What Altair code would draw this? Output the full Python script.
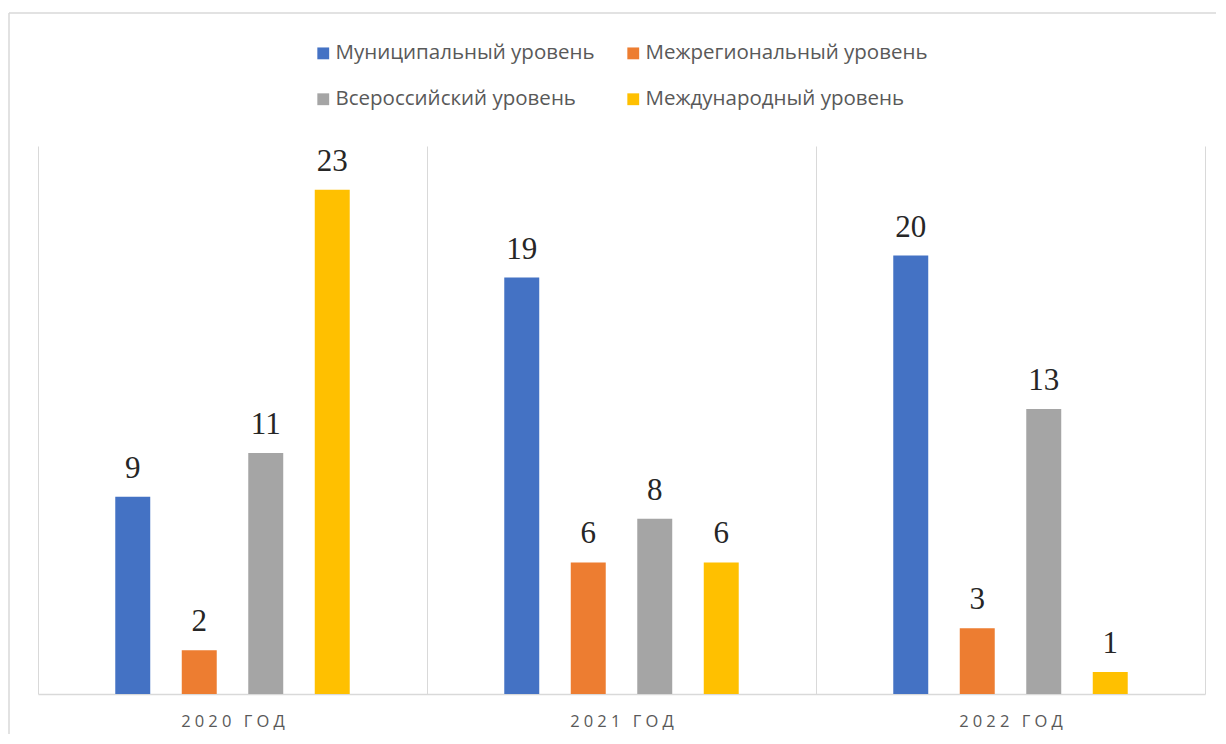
import altair as alt
import pandas as pd

years = ["2020 ГОД", "2021 ГОД", "2022 ГОД"]
series = ["Муниципальный уровень", "Межрегиональный уровень",
          "Всероссийский уровень", "Международный уровень"]
municipal = [9, 19, 20]
interregional = [2, 6, 3]
all_russian = [11, 8, 13]
international = [23, 6, 1]
colors = ["#4472C4", "#ED7D31", "#A5A5A5", "#FFC000"]

def spaced(s):
    return "\u2005".join(list(s))

rows = []
for vals, name in zip([municipal, interregional, all_russian, international], series):
    for y, v in zip(years, vals):
        rows.append({"year": spaced(y), "series": name, "value": v})
df = pd.DataFrame(rows)
year_order = [spaced(y) for y in years]

x = alt.X("year:N", sort=year_order,
          scale=alt.Scale(paddingInner=0, paddingOuter=0),
          axis=alt.Axis(title=None, labelAngle=0, ticks=False, grid=True,
                        tickBand="extent", gridColor="#d9d9d9", gridWidth=1,
                        domainColor="#d9d9d9", domainWidth=1.5,
                        labelFont="Open Sans", labelFontSize=16.5,
                        labelColor="#595959", labelPadding=19))
offset_domain = ["_a"] + series + ["_b"]
xo = alt.XOffset("series:N",
                 scale=alt.Scale(domain=offset_domain, paddingInner=0.474,
                                 paddingOuter=0.162))
y = alt.Y("value:Q", scale=alt.Scale(domain=[0, 25]), axis=None)

bars = alt.Chart(df).mark_bar().encode(
    x=x, xOffset=xo, y=y,
    color=alt.Color("series:N", sort=series,
                    scale=alt.Scale(domain=series, range=colors),
                    legend=alt.Legend(title=None, orient="none", legendX=275,
                                      legendY=-103, columns=2,
                                      direction="horizontal",
                                      symbolType="square", symbolSize=140,
                                      symbolStrokeWidth=0,
                                      labelFont="Open Sans", labelFontSize=20.5,
                                      labelLimit=0,
                                      labelColor="#595959", rowPadding=25,
                                      columnPadding=28, labelOffset=2)),
)

labels = alt.Chart(df).mark_text(
    font="Liberation Serif", fontSize=31, color="#262626",
    baseline="alphabetic", dy=-19
).encode(x=x, xOffset=xo, y=y, text="value:Q")

border_data = alt.Data(values=[{}])
top_border = alt.Chart(border_data).mark_rule(color="#d9d9d9", strokeWidth=1.5).encode(
    x=alt.value(-29), x2=alt.value(1178), y=alt.value(-133))
left_border = alt.Chart(border_data).mark_rule(color="#d9d9d9", strokeWidth=1.5).encode(
    x=alt.value(-29), y=alt.value(-133), y2=alt.value(588))

chart = alt.layer(top_border, left_border, bars, labels).properties(
    width=1167, height=548,
    padding={"left": 0, "top": 4, "right": 0, "bottom": 0},
).configure_view(stroke=None)

chart.save("out.html", embed_options={"renderer": "svg", "actions": False})
